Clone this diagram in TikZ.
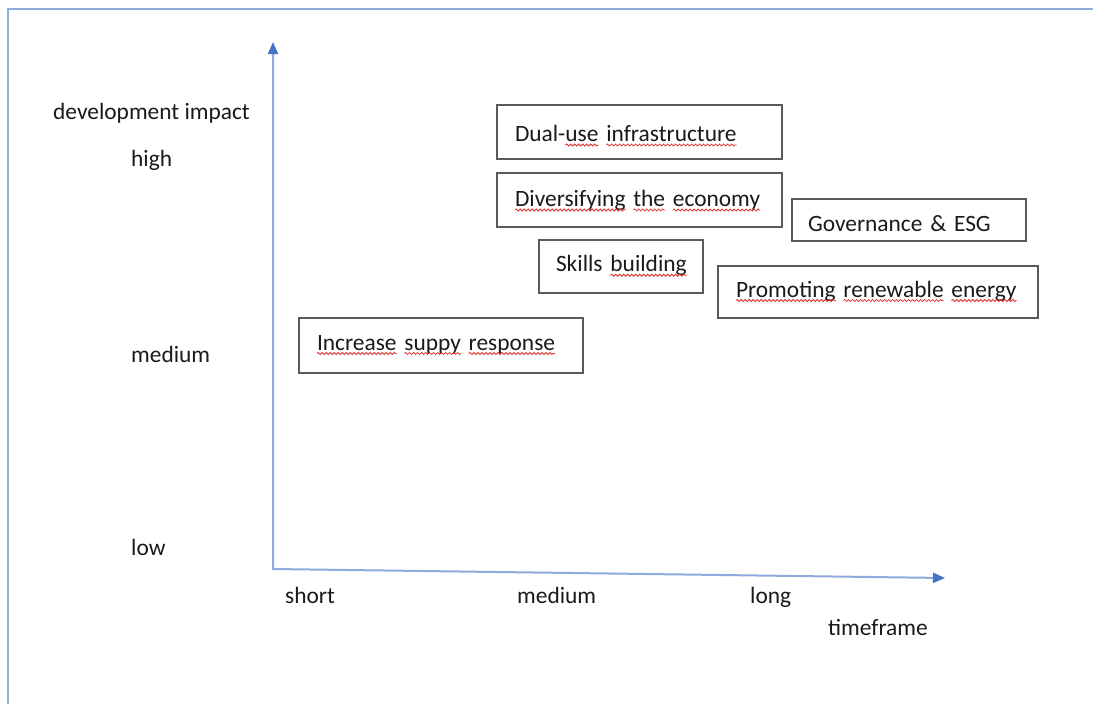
\documentclass[tikz,border=0pt]{standalone}
\usepackage{fontspec}
\setmainfont{Carlito}
\usetikzlibrary{arrows.meta,decorations.pathmorphing}

\definecolor{framecol}{HTML}{8FAADC}
\definecolor{axisline}{HTML}{8FAADC}
\definecolor{axishead}{HTML}{4472C4}
\definecolor{boxline}{HTML}{5A5A5A}
\definecolor{inkcol}{HTML}{1A1A1A}
\definecolor{spellred}{HTML}{E0302C}

% wavy red underline under a single word (kept out of the word's bounding box)
\newcommand\spell[1]{\tikz[baseline=(sw.base)]{%
  \node[draw=none,fill=none,inner sep=0pt,outer sep=0pt,minimum width=0pt,
        minimum height=0pt,text width={},text height={},text depth={},anchor=base] (sw) {#1};
  \draw[overlay,spellred,line width=0.8pt,decorate,
        decoration={snake,amplitude=1pt,segment length=4pt}]
    ([yshift=-3.5pt]sw.base west) -- ([yshift=-3.5pt]sw.base east);}}

\begin{document}
\begin{tikzpicture}[x=1pt,y=-1pt,
  every node/.style={font=\fontsize{23.4}{28}\selectfont, text=inkcol},
  lbl/.style={anchor=base west, inner sep=0pt},
  itembox/.style n args={3}{draw=boxline, line width=1.8pt, rectangle,
    minimum width=#1, minimum height=#2, inner ysep=0pt, inner xsep=#3,
    text width=#1-2*#3, align=left, text depth=0pt},
  axis/.style={draw=axisline, line width=2pt,
    arrows={Triangle[length=12pt,width=10pt,color=axishead]-Triangle[length=12pt,width=10pt,color=axishead]}}
]
% page
\fill[white] (0,0) rectangle (1093,704);
\useasboundingbox (0,0) rectangle (1093,704);

% outer frame
\draw[framecol, line width=2pt] (8,704) -- (8,9) -- (1093,9);

% axes
\coordinate (ytop) at (273,42);
\coordinate (origin) at (273,569);
\coordinate (xend) at (945,578);
\draw[axis] (ytop) -- (origin) -- (xend);

% vertical axis labels
\node[lbl] (ytitle) at (53,119) {development impact};
\node[lbl] (yhigh) at (131,166) {high};
\node[lbl] (ymed) at (131,362) {medium};
\node[lbl] (ylow) at (131,555) {low};

% horizontal axis labels
\node[lbl] (xshort) at (285,603) {short};
\node[lbl] (xmed) at (517,603) {medium};
\node[lbl] (xlong) at (750,603) {long};
\node[lbl] (xtitle) at (828,635) {timeframe};

% initiatives
\node[itembox={285pt}{54pt}{18pt}, text height=19pt] (dual) at (639.5,132)
  {\mbox{Dual-\spell{use} \spell{infrastructure}}};
\node[itembox={285pt}{54pt}{18pt}, text height=13pt] (divers) at (639.5,200)
  {\mbox{\spell{Diversifying} \spell{the} \spell{economy}}};
\node[itembox={234pt}{42pt}{16pt}, text height=22pt] (gov) at (909,220)
  {\mbox{Governance \& ESG}};
\node[itembox={164pt}{53pt}{17pt}, text height=10.5pt] (skills) at (621,266.5)
  {\mbox{Skills \spell{building}}};
\node[itembox={320pt}{52pt}{18pt}, text height=10pt] (renew) at (878,292)
  {\mbox{\spell{Promoting} \spell{renewable} \spell{energy}}};
\node[itembox={284pt}{55pt}{18pt}, text height=9pt] (supply) at (441,345.5)
  {\mbox{\spell{Increase} \spell{suppy} \spell{response}}};
\end{tikzpicture}
\end{document}
